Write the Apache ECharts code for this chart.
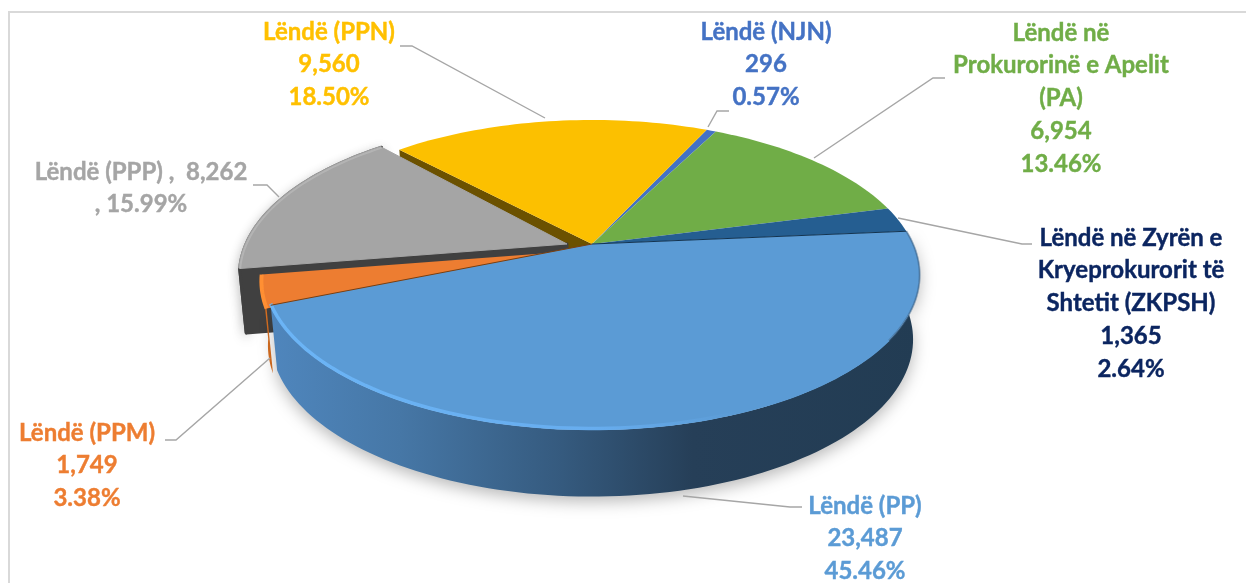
<!DOCTYPE html>
<html><head><meta charset="utf-8">
<style>html,body{margin:0;padding:0;background:#fff}#c{width:1246px;height:583px}</style>
<script src="https://cdn.jsdelivr.net/npm/echarts@6/dist/echarts.min.js"></script>
</head><body><div id="c"></div>
<script>
// ---- data ----
const categories = ['PP','PPM','PPP','PPN','NJN','PA','ZKPSH'];
const values = [23487,1749,8262,9560,296,6954,1365];
const valueLabels = ['23,487','1,749','8,262','9,560','296','6,954','1,365'];
const percentLabels = ['45.46%','3.38%','15.99%','18.50%','0.57%','13.46%','2.64%'];
const nameLines = [
  ['Lëndë (PP)'],
  ['Lëndë (PPM)'],
  ['Lëndë (PPP) ,  8,262'],
  ['Lëndë (PPN)'],
  ['Lëndë (NJN)'],
  ['Lëndë në','Prokurorinë e Apelit','(PA)'],
  ['Lëndë në Zyrën e','Kryeprokurorit të','Shtetit (ZKPSH)']
];
// ---- styles and layout ----
const faceColors = ['#5b9bd5','#ed7d31','#a5a5a5','#fcc000','#4472c4','#70ad47','#255e91'];
const wallColors = ['#3a6288','#d96f20','#404040','#6b5100','#2c4a80','#4a7430','#183e60'];
const textColors = ['#5b9bd5','#ed7d31','#a5a5a5','#ffc000','#4472c4','#70ad47','#0b2560'];
const drawOrder = [4,3,5,6,2,1,0];
const offsets = [[0,0],[-3,6],[-25,0],[0,0],[0,0],[0,0],[0,0]];
const startNudge = [0,0,0,-1.8,0,0,0];
const endNudge = [-1,0,0,0,0,0,0];
const labelCx = [865,87,141,329,766,1061,1131];
const labelTop = [505,432,171,31,31,32,237];
const lineGap = 32.7;
const leaders = [
  [[683,496],[790,507],[802,507]],
  [[165,440],[176,440],[270,358]],
  [[253,185],[267,185],[279,197]],
  [[400,46],[412,46],[545,118]],
  [[729,111],[717,111],[708,127]],
  [[945,78],[933,78],[814,158]],
  [[1032,244],[1022,244],[898,218]]
];
const geo = {cx:592, cy:244, rx:321, ry:148.8, k:0.2, depth:64, startDeg:-5};

const total = values.reduce((a,b)=>a+b,0);
const starts = []; let acc = geo.startDeg;
values.forEach(v=>{ starts.push(acc); acc += v/total*360; });
function topPt(deg,r){ const t=deg*Math.PI/180, u=r*Math.cos(t), v=r*Math.sin(t), w=1-geo.k*v;
  return [geo.cx+geo.rx*u/w, geo.cy+geo.ry*v/w, v]; }
function botPt(deg,r){ const p=topPt(deg,r);
  return [geo.cx+(p[0]-geo.cx)*0.98, p[1]+geo.depth*(1+0.04*p[2])]; }
function arc(fn,a,b){ const pts=[], n=Math.max(2,Math.ceil(Math.abs(b-a)/1.5));
  for(let i=0;i<=n;i++) pts.push(fn(a+(b-a)*i/n,1)); return pts; }
function shift(pts,o){ return pts.map(p=>[p[0]+o[0],p[1]+o[1]]); }

const ppWallGradient = {type:'linear',x:270,y:0,x2:920,y2:0,global:true,colorStops:[
  {offset:0,color:'#4f86bd'},{offset:.2,color:'#4677a6'},{offset:.45,color:'#355a7e'},
  {offset:.65,color:'#263f58'},{offset:1,color:'#223c53'}]};
const ppRimGradient = {type:'linear',x:270,y:0,x2:920,y2:0,global:true,colorStops:[
  {offset:0,color:'#6cb6f8'},{offset:.5,color:'#68aef0'},{offset:.72,color:'#5b9bd5'},{offset:1,color:'#5b9bd5'}]};

function renderSlice(params, api){
  const i = api.value(0), b = starts[i] + api.value(1)/total*360 + endNudge[i], a = starts[i] + startNudge[i], o = offsets[i];
  const apexTop = shift([topPt(0,0)],o)[0], apexBot = shift([botPt(0,0)],o)[0];
  const outerTop = shift(arc(topPt,a,b),o), outerBot = shift(arc(botPt,a,b),o);
  const children = [];
  const wallFill = i===0 ? ppWallGradient : wallColors[i];
  const sh = i===0 ? {shadowBlur:16,shadowColor:'rgba(0,0,0,0.28)',shadowOffsetY:5} :
             i===2 ? {shadowBlur:12,shadowColor:'rgba(0,0,0,0.25)',shadowOffsetY:4} : {};
  if (i===0||i===1||i===2) {
    children.push({type:'polygon',shape:{points:outerTop.concat(outerBot.slice().reverse())},
      style:Object.assign({fill:wallFill,stroke:wallFill,lineWidth:i===2?3:0,lineJoin:'round'},sh)});
  }
  if (i===2||i===3) {
    const t = outerTop[0], bt = outerBot[0];
    children.push({type:'polygon',shape:{points:[t,apexTop,apexBot,bt]},
      style:{fill:wallColors[i],stroke:wallColors[i],lineWidth:i===2?3:0,lineJoin:'round'}});
  }
  children.push({type:'polygon',shape:{points:[apexTop].concat(outerTop)},
    style:{fill:faceColors[i],stroke:i===2?'#a5a5a5':null,lineWidth:i===2?1:0,lineJoin:'round'}});
  if (i===0) {
    const cut = Math.floor(outerTop.length*0.25);
    children.push({type:'polyline',shape:{points:outerTop.slice(0,cut+1)},style:{fill:null,stroke:'#3f6a92',lineWidth:2,opacity:.55}});
    children.push({type:'polyline',shape:{points:outerTop.slice(cut).map(p=>[p[0],p[1]-1.5])},style:{fill:null,stroke:ppRimGradient,lineWidth:3.5,opacity:.95}});
    children.push({type:'polyline',shape:{points:[outerTop[outerTop.length-1],apexTop]},style:{fill:null,stroke:'#7a3f10',lineWidth:1}});
    children.push({type:'polyline',shape:{points:[apexTop,outerTop[0]]},style:{fill:null,stroke:'#123350',lineWidth:1}});
  } else if (i===1) {
    children.push({type:'polyline',shape:{points:outerTop},style:{fill:null,stroke:'#ff8f33',lineWidth:4}});
  } else if (i===2) {
    children.push({type:'polyline',shape:{points:outerTop},style:{fill:null,stroke:'#b8b8b8',lineWidth:3,opacity:.8}});
  }
  return {type:'group',children};
}
function renderLeader(params, api){
  const i = api.value(0);
  return {type:'polyline',shape:{points:leaders[i]},style:{fill:null,stroke:'#a6a6a6',lineWidth:1.4}};
}
function renderLabel(params, api){
  const i = api.value(0);
  const lines = nameLines[i].slice();
  if (i===2) lines.push(', '+percentLabels[i]);
  else lines.push(valueLabels[i], percentLabels[i]);
  return {type:'group',children:lines.map((s,j)=>({type:'text',style:{
    x:labelCx[i],y:labelTop[i]+j*lineGap+1,text:s,fill:textColors[i],stroke:textColors[i],lineWidth:0.4,
    font:'bold 24px Lato',align:'center',verticalAlign:'middle'}}))};
}
const chart = echarts.init(document.getElementById('c'),null,{renderer:'canvas'});
chart.setOption({
  animation:false,
  backgroundColor:'#fff',
  graphic:[{type:'polyline',shape:{points:[[9,583],[9,12],[1246,12]]},style:{fill:null,stroke:'#d9d9d9',lineWidth:2}}],
  series:[
    {type:'custom',coordinateSystem:'none',z:2,renderItem:renderSlice,silent:true,
     data:drawOrder.map(i=>[i,values[i]])},
    {type:'custom',coordinateSystem:'none',z:3,renderItem:renderLeader,silent:true,
     data:categories.map((c,i)=>[i])},
    {type:'custom',coordinateSystem:'none',z:4,renderItem:renderLabel,silent:true,
     data:categories.map((c,i)=>[i])}
  ]
});
</script></body></html>
